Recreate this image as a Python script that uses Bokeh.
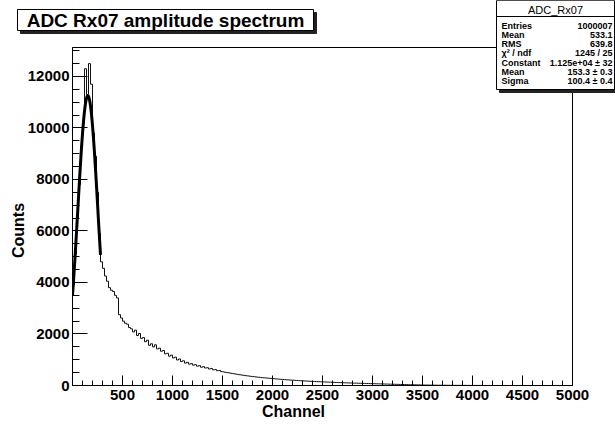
import numpy as np
from bokeh.plotting import figure
from bokeh.models import Range1d, FixedTicker, Label
from bokeh.embed import file_html
from bokeh.resources import INLINE

# ---------------- data ----------------
bin_width = 20
counts = [
    3900, 5100, 6500, 7800, 9300, 10200, 12300, 11300, 12500, 11700,
    9800, 8900, 7500, 5900, 4800, 4550, 4250, 4050, 3800, 3700,
    3650, 3500, 3400, 2750, 2620, 2500, 2420, 2380, 2250, 2200,
    2080, 2150, 1940, 2020, 1830, 1860, 1700, 1760, 1560, 1620,
    1500, 1580, 1420, 1450, 1330, 1360, 1230, 1250, 1140, 1180,
    1070, 1100, 990, 1030, 930, 960, 870, 900, 830, 850,
    790, 810, 750, 770, 710, 730, 680, 690, 640, 660,
    610, 620, 575, 585, 540, 530, 512, 500, 488, 472,
    460, 446, 433, 420, 408, 398, 385, 374, 365, 352,
    346, 334, 325, 318, 308, 300, 296, 286, 280, 272,
    266, 258, 252, 246, 238, 233, 226, 221, 214, 209,
    204, 198, 194, 188, 184, 179, 174, 171, 166, 162,
    158, 154, 151, 147, 143, 140, 136, 133, 129, 126,
    123, 119, 117, 113, 111, 108, 105, 102, 99, 97,
    94, 92, 89, 87, 84, 82, 80, 77, 75, 73,
    70, 68, 66, 63, 61, 59, 57, 55, 52, 50,
    48, 46, 44, 42, 40, 38, 36, 34, 32, 30,
    28, 26, 24, 22, 20, 18, 17, 16, 15, 14,
    13, 12, 11, 10, 10, 9, 8, 8, 7, 7,
    6, 6, 5, 5, 4, 4, 4, 3, 3, 3,
    2, 2, 2, 2, 2, 1, 1, 1, 1, 0,
]

fit_constant = 1.125e4
fit_mean = 153.3
fit_sigma = 100.4
fit_range = [0, 280]

x_major_ticks = [500, 1000, 1500, 2000, 2500, 3000, 3500, 4000, 4500, 5000]
y_major_ticks = [0, 2000, 4000, 6000, 8000, 10000, 12000]

title_text = "ADC Rx07 amplitude spectrum"
x_title = "Channel"
y_title = "Counts"
stats_title = "ADC_Rx07"
stat_names = ["Entries", "Mean", "RMS", "\u03c7\u00b2 / ndf", "Constant", "Mean", "Sigma"]
stat_values = ["1000007", "533.1", "639.8", "1245 / 25",
               "1.125e+04 \u00b1 32", "153.3 \u00b1 0.3", "100.4 \u00b1 0.4"]

# ---------------- main figure ----------------
FL, FR, FT, FB = 72, 572, 47, 385  # frame in canvas pixels
W, H = 615, 424
FONT = "Liberation Sans"

p = figure(width=W, height=H, output_backend="svg", toolbar_location=None,
           x_range=Range1d(0, 5000), y_range=Range1d(0, 13125),
           min_border_left=FL, min_border_right=W - FR,
           min_border_top=FT, min_border_bottom=H - FB)
p.grid.visible = False
p.outline_line_color = "black"
p.outline_line_width = 1
p.background_fill_color = "white"
p.border_fill_color = "white"

p.xaxis.ticker = FixedTicker(ticks=x_major_ticks, minor_ticks=list(range(0, 5001, 100)))
p.yaxis.ticker = FixedTicker(ticks=y_major_ticks, minor_ticks=list(range(0, 13001, 500)))

for ax in (p.xaxis[0], p.yaxis[0]):
    ax.axis_line_color = "black"
    ax.major_tick_line_color = "black"
    ax.minor_tick_line_color = "black"
    ax.major_tick_out = 0
    ax.minor_tick_out = 0
    ax.major_label_text_font = FONT
    ax.major_label_text_font_style = "bold"
    ax.major_label_text_font_size = "15px"
    ax.major_label_text_color = "black"

p.xaxis.major_tick_in = 10
p.xaxis.minor_tick_in = 5
p.xaxis.major_label_standoff = 4
p.yaxis.major_tick_in = 15
p.yaxis.minor_tick_in = 7
p.yaxis.major_label_standoff = 3

# histogram
edges = [i * bin_width for i in range(len(counts) + 1)]
p.step(edges, counts + [counts[-1]], mode="after", line_color="#111111", line_width=1)

# gaussian fit drawn from its fitted parameters
fx = np.linspace(fit_range[0], fit_range[1], 141)
fy = fit_constant * np.exp(-0.5 * ((fx - fit_mean) / fit_sigma) ** 2)
p.line(fx, fy, line_color="black", line_width=3)

# ---------------- overlay for title, axis titles and stats box ----------------
q = figure(width=W, height=H, output_backend="svg", toolbar_location=None,
           x_range=Range1d(0, W), y_range=Range1d(H, 0),
           x_axis_location=None, y_axis_location=None,
           min_border=0, min_border_left=0, min_border_right=0,
           min_border_top=0, min_border_bottom=0)
try:
    q.title = None
except Exception:
    q.title.visible = False
q.grid.visible = False
q.outline_line_color = None
q.background_fill_alpha = 0.0
q.border_fill_alpha = 0.0
q.margin = (-H, 0, 0, 0)

def box(x0, y0, x1, y1, fill, line):
    q.quad(left=[x0], right=[x1], top=[y0], bottom=[y1],
           fill_color=fill, line_color=line if line else fill, line_width=1)

def label(X, Y, text, size, align="center", bold=True, angle=0.0):
    q.add_layout(Label(x=X, y=Y, text=text, text_font=FONT,
                       text_font_style="bold" if bold else "normal",
                       text_font_size=size, text_align=align,
                       text_baseline="middle", text_color="black", angle=angle))

# title box with shadow
box(20, 12, 316, 33, "#222222", None)
box(17, 9, 313, 30, "white", "black")
label(165, 20, title_text, "19px")

# axis titles
label(293, 411, x_title, "16px")
label(18, 230, y_title, "16px", angle=np.pi / 2)

# stats box with shadow
box(499, 3, 617, 92, "#222222", None)
box(496, 0, 614, 89, "white", "black")
box(496, 0, 614, 16, "white", "black")
label(555, 9, stats_title, "11px", bold=False)
row_y0, row_dy = 25.0, 9.33
for i, (n, v) in enumerate(zip(stat_names, stat_values)):
    yy = row_y0 + i * row_dy
    label(501, yy, n, "9px", align="left")
    label(612, yy, v, "9px", align="right")

open("out.html", "w").write(file_html([p, q], INLINE))
